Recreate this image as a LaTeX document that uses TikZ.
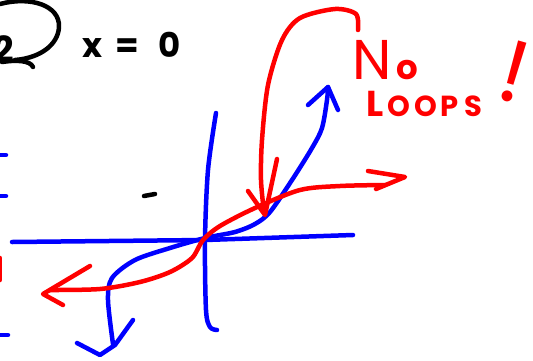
\documentclass[tikz,border=0pt]{standalone}
\usepackage{fontspec}
\newfontfamily\hand{Poppins}
\tikzset{
  pen/.style={line width=4.5pt, line cap=round, line join=round},
  bluepen/.style={pen, draw=blue},
  redpen/.style={pen, draw=red},
  blackpen/.style={pen, draw=black},
  handtext/.style={inner sep=0pt, font=\hand\bfseries}
}
\begin{document}
\begin{tikzpicture}[x=1pt,y=-1pt]
\useasboundingbox (0,0) rectangle (533,360);
% circled 2 (cut off at the left edge)
\node[handtext, anchor=south east, font=\hand\bfseries\fontsize{36}{36}\selectfont] (two) at (14,63) {2};
\draw[blackpen] (0,4) .. controls (30,-4) and (60,5) .. (59,27) .. controls (58,45) and (40,58) .. (15,60);
\draw[blackpen] (2,62) .. controls (15,60) and (30,60) .. (33,67);
% x = 0
\node[handtext, anchor=base west, font=\hand\bfseries\fontsize{34}{34}\selectfont] (eq) at (82,57) {x\hspace{13pt}=\hspace{20pt}0};
% left edge marks
\draw[bluepen] (0,155) -- (6,155);
\draw[bluepen] (0,196) -- (6,196);
\draw[bluepen] (0,335) -- (8,335);
\draw[redpen] (0,258) -- (0,280);
\draw[blackpen] (144,196) -- (155,194);
% axes
\draw[bluepen] (12,242) -- (205,240) -- (353,235);
\draw[bluepen] plot[smooth] coordinates {(216,113) (208,170) (205,240) (206,310) (210,327) (217,330)};
% blue curve
\draw[bluepen] plot[smooth] coordinates {(113,344) (108,300) (112,278) (135,260) (170,248) (205,238) (235,232) (255,224) (270,212) (292,180) (312,148) (322,128) (327,100) (328,87)};
\draw[bluepen] (308,105) -- (328,87) -- (338,110);
\draw[bluepen] (77,343) -- (100,355) -- (115,345) -- (133,320);
% red curve
\draw[redpen] plot[smooth] coordinates {(50,290) (100,289) (140,282) (170,272) (192,258) (203,240) (220,226) (255,208) (300,190) (340,186) (385,185)};
\draw[redpen] (90,266) -- (43,294) -- (63,305);
\draw[redpen] (368,171) -- (405,177) -- (376,189);
% red pointer from the note
\draw[redpen] plot[smooth] coordinates {(358,30) (356,14) (335,9) (300,18) (282,40) (268,85) (262,140) (261,180) (264,212)};
\draw[redpen] (248,191) -- (265,215) -- (277,159);
% note
\node[handtext, red, anchor=north west, align=left, font=\hand\bfseries\fontsize{36}{37}\selectfont] (note) at (352,40)
  {{\mdseries\fontsize{56}{37}\selectfont N}\kern5pt{\fontsize{34}{37}\selectfont o}\\
   \hspace*{14pt}L\kern4pt{\fontsize{29}{37}\selectfont O\kern4pt O\kern4pt P\kern5pt S}};
\node[handtext, red, rotate=-16, font=\hand\mdseries\fontsize{88}{88}\selectfont] (bang) at (514,72) {!};
\end{tikzpicture}
\end{document}
